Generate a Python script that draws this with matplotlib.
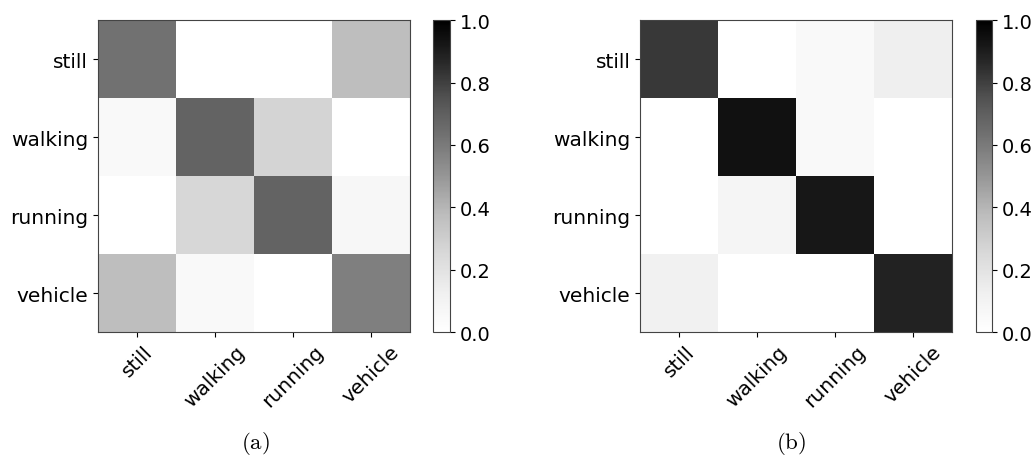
import numpy as np
import matplotlib
matplotlib.use("Agg")
import matplotlib.pyplot as plt

labels = ["still", "walking", "running", "vehicle"]

# row-normalised confusion matrices
cm_a = np.array([
    [0.63, 0.00, 0.00, 0.37],
    [0.05, 0.68, 0.27, 0.00],
    [0.00, 0.26, 0.68, 0.06],
    [0.37, 0.05, 0.00, 0.58],
])
cm_b = np.array([
    [0.82, 0.00, 0.05, 0.13],
    [0.00, 0.94, 0.05, 0.00],
    [0.00, 0.08, 0.92, 0.00],
    [0.11, 0.00, 0.00, 0.88],
])
captions = ["(a)", "(b)"]

plt.rcParams["mathtext.fontset"] = "cm"
fig = plt.figure(figsize=(10.36, 4.6), dpi=100)

ax_pos = [[0.0946, 0.276, 0.301, 0.678], [0.618, 0.276, 0.301, 0.678]]
cb_pos = [[0.418, 0.276, 0.0164, 0.678], [0.942, 0.276, 0.0155, 0.678]]
cap_x = [0.247, 0.764]

for cm, pa, pc, cx, cap in zip([cm_a, cm_b], ax_pos, cb_pos, cap_x, captions):
    ax = fig.add_axes(pa)
    im = ax.imshow(cm, cmap="Greys", vmin=0, vmax=1, aspect="auto",
                   interpolation="nearest")
    ax.set_xticks(range(len(labels)))
    ax.set_yticks(range(len(labels)))
    ax.set_xticklabels(labels, rotation=45, fontsize=14.5)
    ax.set_yticklabels(labels, fontsize=14.5)
    for s in ax.spines.values():
        s.set_color("#444444")
    cax = fig.add_axes(pc)
    cb = fig.colorbar(im, cax=cax, ticks=[0, 0.2, 0.4, 0.6, 0.8, 1.0])
    cb.ax.tick_params(labelsize=14)
    cb.outline.set_edgecolor("#444444")
    fig.text(cx, 0.035, r"$\mathrm{%s}$" % cap, ha="center", va="center",
             fontsize=16.5)

fig.savefig("out.png", dpi=100)
